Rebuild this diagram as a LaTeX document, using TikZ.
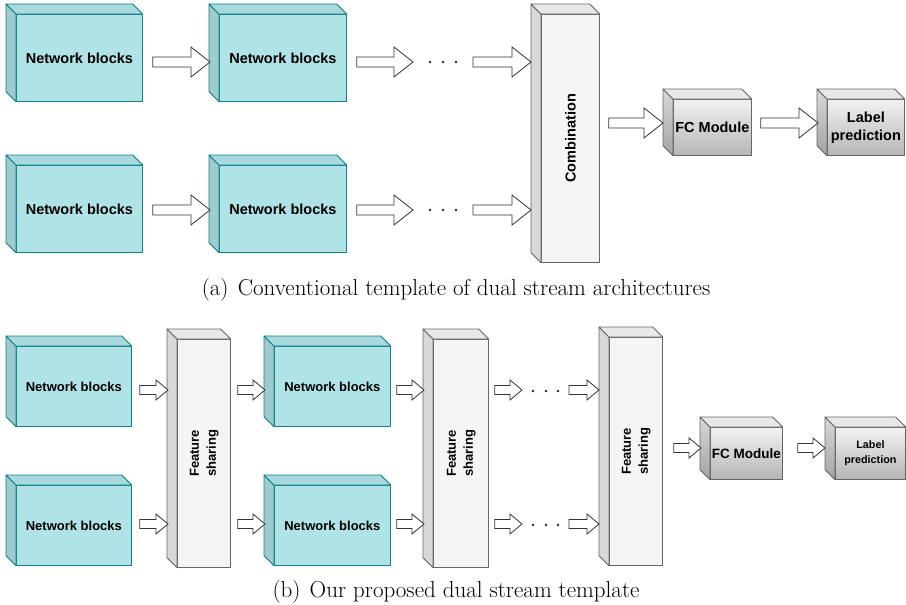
\documentclass[tikz,border=0pt]{standalone}
\usepackage{fontspec}
\usepackage{graphicx}
\newfontfamily\hv{Liberation Sans}
\usetikzlibrary{calc}
\definecolor{cyf}{HTML}{B0E3E6}
\definecolor{cys}{HTML}{0E8088}
\definecolor{cyside}{HTML}{9DCBCE}
\definecolor{cytop}{HTML}{A8D9DC}
\definecolor{gyf}{HTML}{F5F5F5}
\definecolor{gys}{HTML}{666666}
\definecolor{gyside}{HTML}{D8D8D8}
\definecolor{gytop}{HTML}{E8E8E8}
\definecolor{fctop}{HTML}{F2F2F2}
\definecolor{fcbot}{HTML}{B5B5B5}
\definecolor{fcsidetop}{HTML}{D9D9D9}
\definecolor{fcsidebot}{HTML}{A3A3A3}
\definecolor{arrline}{HTML}{333333}

\tikzset{
  face/.style={line width=0.8pt, line join=round, inner sep=0pt, anchor=north west, align=center},
  cyanbox/.style={face, draw=cys, fill=cyf},
  cyanside/.style={draw=cys, fill=cyside, line width=0.8pt, line join=round},
  cyantop/.style={draw=cys, fill=cytop, line width=0.8pt, line join=round},
  graybox/.style={face, draw=gys, fill=gyf},
  grayside/.style={draw=gys, fill=gyside, line width=0.8pt, line join=round},
  graytop/.style={draw=gys, fill=gytop, line width=0.8pt, line join=round},
  fcbox/.style={face, draw=gys, top color=fctop, bottom color=fcbot},
  fcside/.style={draw=gys, top color=fcsidetop, bottom color=fcsidebot, line width=0.8pt, line join=round},
  fctopface/.style={draw=gys, fill=gytop, line width=0.8pt, line join=round},
  bigtext/.style={font=\hv\bfseries\fontsize{14.5}{18}\selectfont},
  midtext/.style={font=\hv\bfseries\fontsize{13}{17}\selectfont},
  fctext/.style={font=\hv\bfseries\fontsize{13.5}{17}\selectfont},
  smalltext/.style={font=\hv\bfseries\fontsize{10.8}{15.5}\selectfont},
  captext/.style={font=\fontsize{23}{27}\selectfont},
  barrow/.style n args={3}{draw=arrline, fill=white, line width=0.8pt, line join=miter,
    to path={let \p1=(\tikztostart), \p2=(\tikztotarget) in
      (\x1,\y1+#1) -- (\x2-#3,\y1+#1) -- (\x2-#3,\y1+#2) -- (\x2,\y1)
      -- (\x2-#3,\y1-#2) -- (\x2-#3,\y1-#1) -- (\x1,\y1-#1) -- cycle}},
  bigarrow/.style={barrow={5pt}{15pt}{19pt}},
  smallarrow/.style={barrow={4.5pt}{10pt}{12pt}},
  dotmark/.style={circle, fill=black!85, inner sep=0pt, minimum size=2.8pt},
}

\newcommand\cubedepth[3]{%
  \path[#2] (#1.north west) -- ++(-10,-10) -- ($(#1.south west)+(-10,-10)$) -- (#1.south west) -- cycle;
  \path[#3] (#1.north west) -- ++(-10,-10) -- ($(#1.north east)+(-10,-10)$) -- (#1.north east) -- cycle;
}

\begin{document}
\begin{tikzpicture}[x=1pt, y=-1pt]
\useasboundingbox (0,0) rectangle (906,605);

% ---------- (a) ----------
\node[cyanbox, bigtext, minimum width=126, minimum height=87] (nb11) at (16,14) {Network blocks};
\node[cyanbox, bigtext, minimum width=127, minimum height=87] (nb12) at (219,14) {Network blocks};
\node[cyanbox, bigtext, minimum width=126, minimum height=87] (nb21) at (16,165) {Network blocks};
\node[cyanbox, bigtext, minimum width=127, minimum height=87] (nb22) at (219,165) {Network blocks};
\node[graybox, bigtext, minimum width=58, minimum height=248] (comb) at (541,14) {\rotatebox{90}{Combination}};
\node[fcbox, bigtext, minimum width=78, minimum height=56] (fc1) at (673,99) {FC Module};
\node[fcbox, bigtext, minimum width=77, minimum height=56] (lp1) at (827,99) {Label\\prediction};
\cubedepth{nb11}{cyanside}{cyantop}
\cubedepth{nb12}{cyanside}{cyantop}
\cubedepth{nb21}{cyanside}{cyantop}
\cubedepth{nb22}{cyanside}{cyantop}
\cubedepth{comb}{grayside}{graytop}
\cubedepth{fc1}{fcside}{fctopface}
\cubedepth{lp1}{fcside}{fctopface}

\coordinate (r1) at (0,62);
\coordinate (r2) at (0,210);
\coordinate (r3) at (0,123);
\node[dotmark] (d1a) at (430,62) {};
\node[dotmark] (d1b) at (443,62) {};
\node[dotmark] (d1c) at (456,62) {};
\node[dotmark] (d2a) at (430,210) {};
\node[dotmark] (d2b) at (443,210) {};
\node[dotmark] (d2c) at (456,210) {};

\path[bigarrow] ($(nb11.east|-r1)+(10,0)$) to ($(nb12.west|-r1)+(-9,0)$);
\path[bigarrow] ($(nb12.east|-r1)+(10,0)$) to ($(d1a)+(-17,0)$);
\path[bigarrow] ($(d1c)+(17,0)$) to ($(comb.west|-r1)+(-10,0)$);
\path[bigarrow] ($(nb21.east|-r2)+(10,0)$) to ($(nb22.west|-r2)+(-9,0)$);
\path[bigarrow] ($(nb22.east|-r2)+(10,0)$) to ($(d2a)+(-17,0)$);
\path[bigarrow] ($(d2c)+(17,0)$) to ($(comb.west|-r2)+(-10,0)$);
\path[bigarrow] ($(comb.east|-r3)+(9,0)$) to ($(fc1.west|-r3)+(-10,0)$);
\path[bigarrow] ($(fc1.east|-r3)+(9,0)$) to ($(lp1.west|-r3)+(-9,0)$);

\node[captext] (capa) at (456,290) {(a)\hspace{0.4em}Conventional template of dual stream architectures};

% ---------- (b) ----------
\node[cyanbox, midtext, minimum width=115, minimum height=80] (b11) at (16,346) {Network blocks};
\node[cyanbox, midtext, minimum width=115, minimum height=80] (b21) at (16,485) {Network blocks};
\node[graybox, midtext, minimum width=53, minimum height=228] (fs1) at (177,339) {\rotatebox{90}{\begin{tabular}{@{}c@{}}Feature\\sharing\end{tabular}}};
\node[cyanbox, midtext, minimum width=116, minimum height=80] (b12) at (274,346) {Network blocks};
\node[cyanbox, midtext, minimum width=116, minimum height=80] (b22) at (274,485) {Network blocks};
\node[graybox, midtext, minimum width=55, minimum height=228] (fs2) at (433,339) {\rotatebox{90}{\begin{tabular}{@{}c@{}}Feature\\sharing\end{tabular}}};
\node[graybox, midtext, minimum width=53, minimum height=228] (fs3) at (609,337) {\rotatebox{90}{\begin{tabular}{@{}c@{}}Feature\\sharing\end{tabular}}};
\node[fcbox, fctext, minimum width=72, minimum height=52] (fc2) at (710,427) {FC Module};
\node[fcbox, smalltext, minimum width=70, minimum height=52] (lp2) at (835,427) {Label\\prediction};
\cubedepth{b11}{cyanside}{cyantop}
\cubedepth{b21}{cyanside}{cyantop}
\cubedepth{fs1}{grayside}{graytop}
\cubedepth{b12}{cyanside}{cyantop}
\cubedepth{b22}{cyanside}{cyantop}
\cubedepth{fs2}{grayside}{graytop}
\cubedepth{fs3}{grayside}{graytop}
\cubedepth{fc2}{fcside}{fctopface}
\cubedepth{lp2}{fcside}{fctopface}

\coordinate (s1) at (0,390);
\coordinate (s2) at (0,524);
\coordinate (s3) at (0,448);
\node[dotmark] (d3a) at (533,391) {};
\node[dotmark] (d3b) at (546,391) {};
\node[dotmark] (d3c) at (558,391) {};
\node[dotmark] (d4a) at (533,525) {};
\node[dotmark] (d4b) at (546,525) {};
\node[dotmark] (d4c) at (558,525) {};

\path[smallarrow] ($(b11.east|-s1)+(8,0)$) to ($(fs1.west|-s1)+(-9,0)$);
\path[smallarrow] ($(fs1.east|-s1)+(7,0)$) to ($(b12.west|-s1)+(-9,0)$);
\path[smallarrow] ($(b12.east|-s1)+(6,0)$) to ($(fs2.west|-s1)+(-9,0)$);
\path[smallarrow] ($(fs2.east|-s1)+(6,0)$) to ($(d3a|-s1)+(-11,0)$);
\path[smallarrow] ($(d3c|-s1)+(11,0)$) to ($(fs3.west|-s1)+(-10,0)$);
\path[smallarrow] ($(b21.east|-s2)+(8,0)$) to ($(fs1.west|-s2)+(-9,0)$);
\path[smallarrow] ($(fs1.east|-s2)+(7,0)$) to ($(b22.west|-s2)+(-9,0)$);
\path[smallarrow] ($(b22.east|-s2)+(6,0)$) to ($(fs2.west|-s2)+(-9,0)$);
\path[smallarrow] ($(fs2.east|-s2)+(6,0)$) to ($(d4a|-s2)+(-11,0)$);
\path[smallarrow] ($(d4c|-s2)+(11,0)$) to ($(fs3.west|-s2)+(-10,0)$);
\path[smallarrow] ($(fs3.east|-s3)+(11,0)$) to ($(fc2.west|-s3)+(-9,0)$);
\path[smallarrow] ($(fc2.east|-s3)+(15,0)$) to ($(lp2.west|-s3)+(-10,0)$);

\node[captext] (capb) at (456,592) {(b)\hspace{0.4em}Our proposed dual stream template};
\end{tikzpicture}
\end{document}
